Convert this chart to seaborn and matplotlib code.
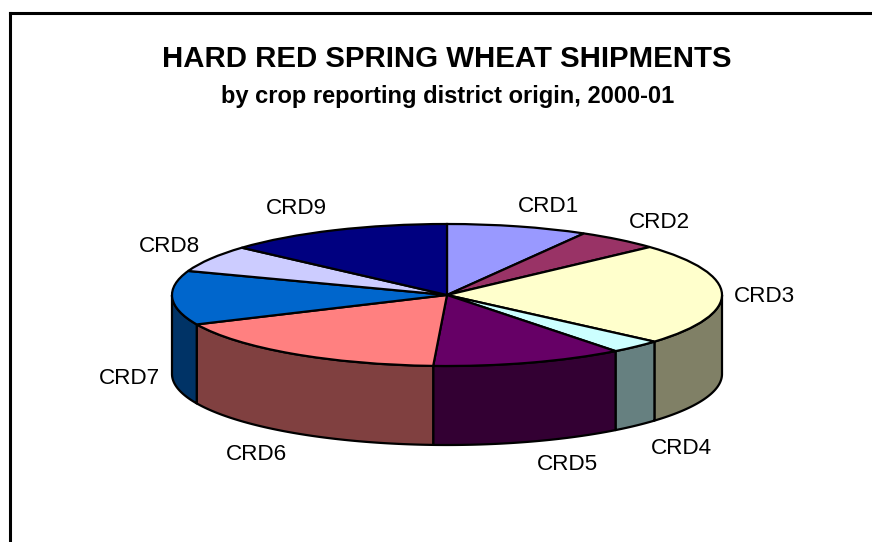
import numpy as np
import pandas as pd
import seaborn as sns
import matplotlib.pyplot as plt
from matplotlib.lines import Line2D

# slice shares (percent)
districts = ["CRD1", "CRD2", "CRD3", "CRD4", "CRD5", "CRD6", "CRD7", "CRD8", "CRD9"]
shares = [8.3, 4.9, 23.2, 3.1, 11.3, 17.4, 12.3, 6.1, 13.4]
top_colors = ["#9999FF", "#993366", "#FFFFCC", "#CCFFFF", "#660066", "#FF8080", "#0066CC", "#CCCCFF", "#000080"]
side_colors = ["#4C4C80", "#4C1933", "#808066", "#668080", "#330033", "#804040", "#003366", "#666680", "#000040"]

df = pd.DataFrame({"district": districts, "share": shares})

W, H = 872, 542
CX, CY, RX, RY, DEPTH = 447, 295, 275, 71, 79

sns.set_theme(style="white")
plt.rcParams["font.family"] = ["Liberation Sans", "DejaVu Sans"]

fig = plt.figure(figsize=(W / 100, H / 100), dpi=100, facecolor="white")
ax = fig.add_axes([0, 0, 1, 1])

# top surface, a unit pie squashed by the axes limits
ax.pie(df["share"], colors=top_colors, startangle=90, counterclock=False, radius=1,
       wedgeprops={"edgecolor": "black", "linewidth": 1.6}, normalize=True)
ax.set_aspect("auto")
ax.set_xlim((0 - CX) / RX, (W - CX) / RX)
ax.set_ylim((CY - H) / RY, (CY - 0) / RY)
ax.axis("off")

# side wall of the front half, one band per slice
depth = DEPTH / RY
edges = np.cumsum([0] + list(df["share"])) / df["share"].sum() * 360
for i in range(len(df)):
    a0, a1 = max(edges[i], 90), min(edges[i + 1], 270)
    if a0 >= a1:
        continue
    t = np.radians(np.linspace(a0, a1, 80))
    x, y = np.sin(t), np.cos(t)
    ax.fill(np.r_[x, x[::-1]], np.r_[y, y[::-1] - depth], facecolor=side_colors[i],
            edgecolor="black", linewidth=1.6, joinstyle="round", zorder=0.5)

# outer frame, open on the right and bottom
fig.add_artist(Line2D([10 / W, 10 / W], [0, 1 - 13 / H], color="black", lw=2.2, solid_capstyle="projecting"))
fig.add_artist(Line2D([10 / W, 1], [1 - 13 / H, 1 - 13 / H], color="black", lw=2.2, solid_capstyle="projecting"))

fig.text(447 / W, 1 - 59 / H, "HARD RED SPRING WHEAT SHIPMENTS", ha="center", va="center",
         fontsize=21.2, fontweight="bold", color="black")
fig.text(447.5 / W, 1 - 96 / H, "by crop reporting district origin, 2000-01", ha="center", va="center",
         fontsize=17, fontweight="bold", color="black")

label_px = [(548, 207), (659, 222), (764, 296), (681, 449), (567, 465),
            (256, 454), (129, 378), (169, 247), (296, 209)]
for name, (px, py) in zip(districts, label_px):
    fig.text(px / W, 1 - py / H, name, ha="center", va="center", fontsize=16.2, color="black")

fig.savefig("out.png", dpi=100, facecolor="white")
